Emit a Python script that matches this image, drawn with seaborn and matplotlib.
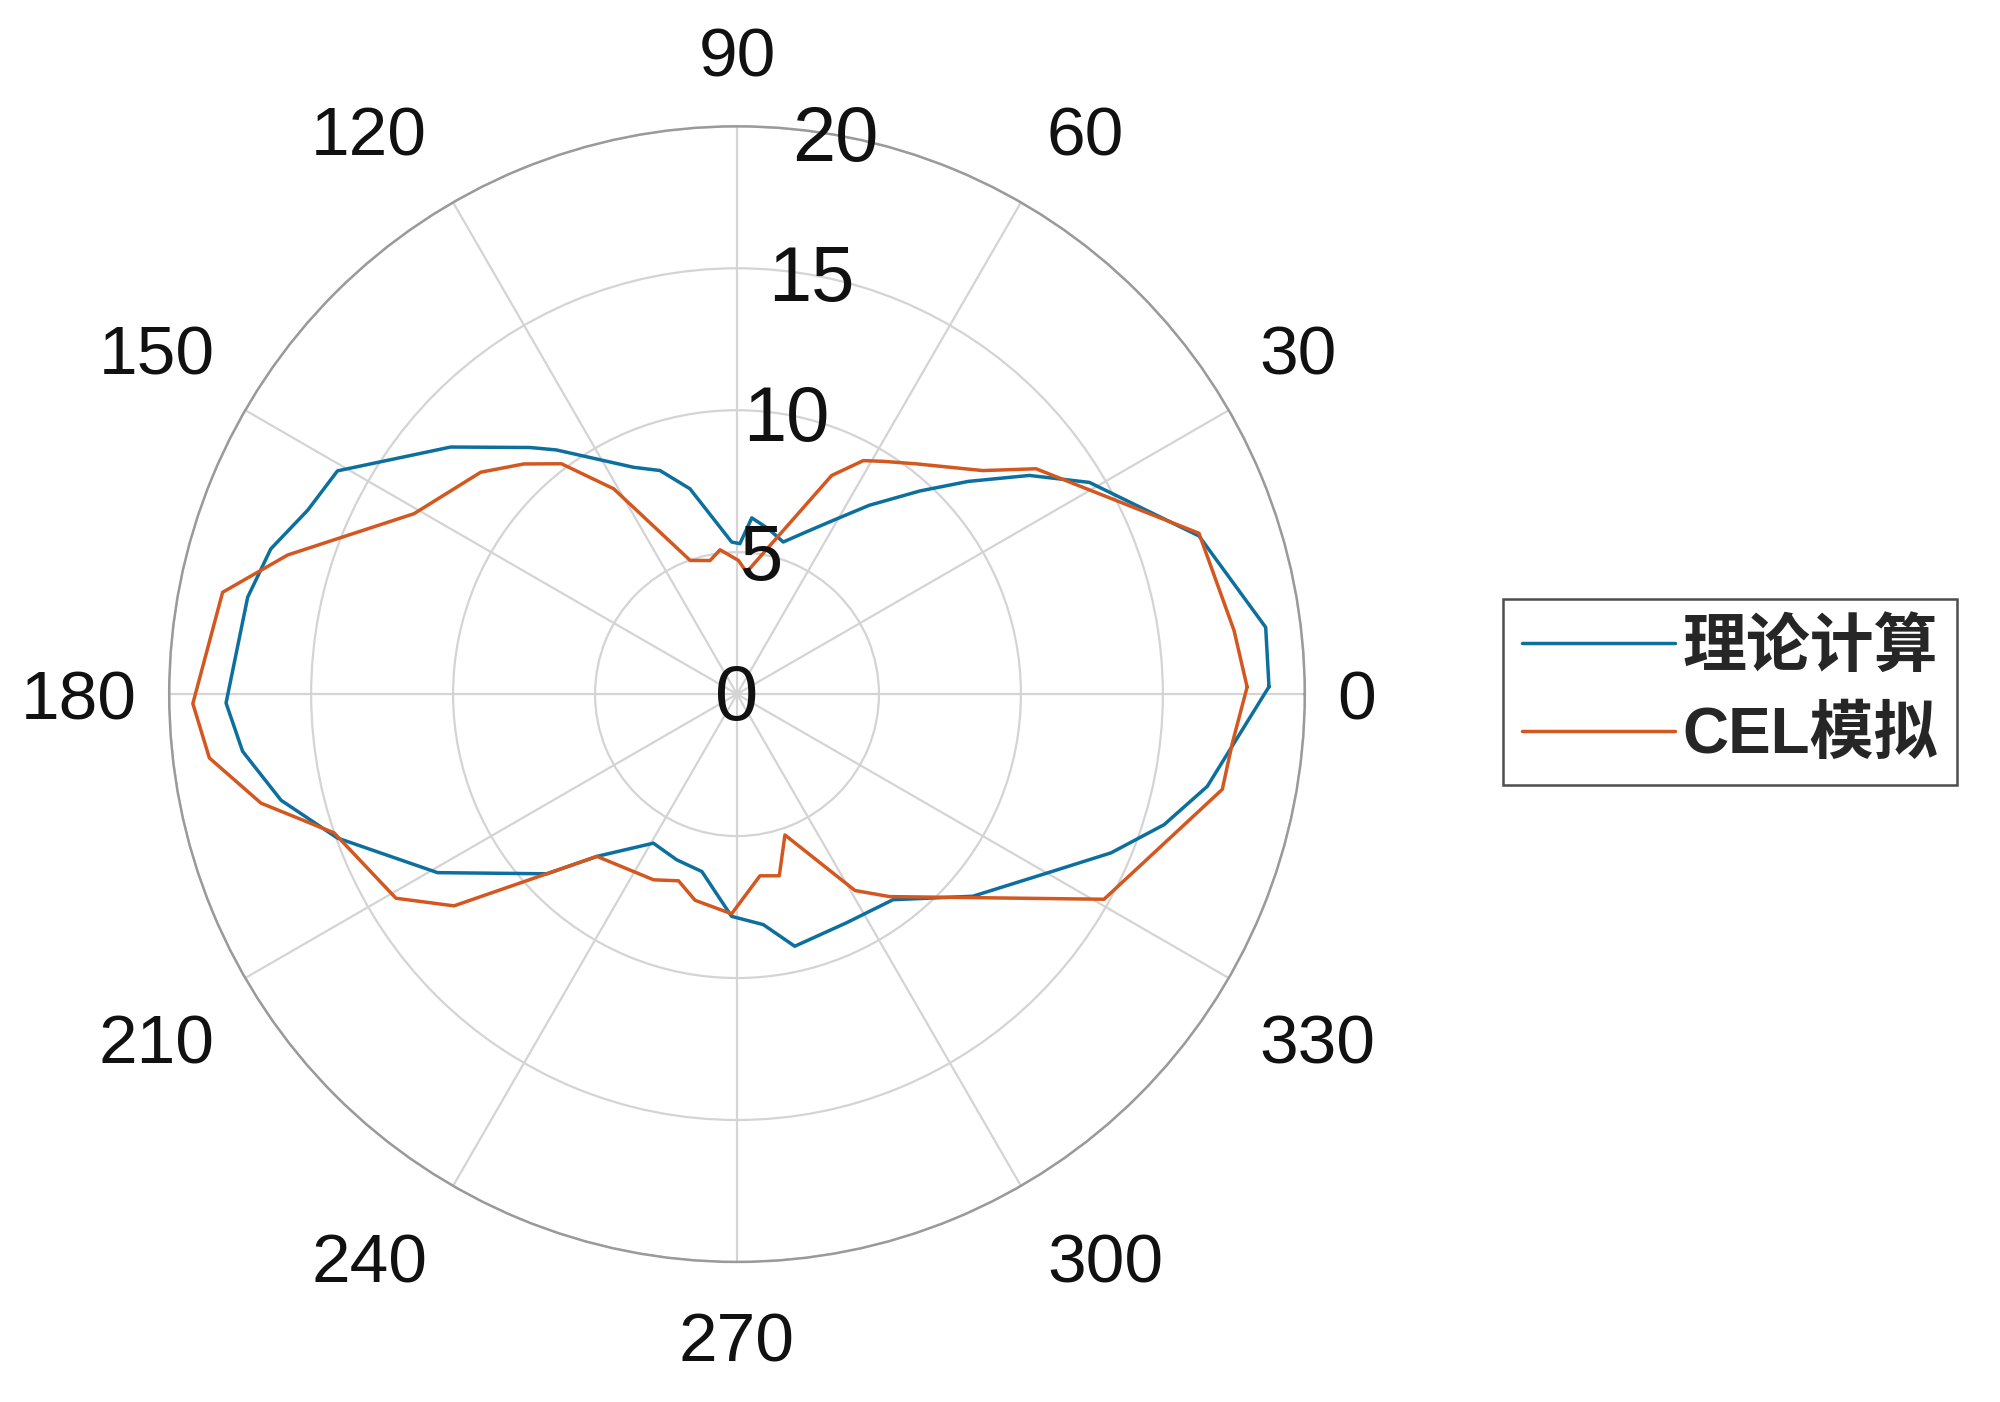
import numpy as np
import pandas as pd
import seaborn as sns
import matplotlib.pyplot as plt

# Vertices (angle in degrees, radius)
theory_deg = [0.8, 7.2, 18.9, 31.0, 36.8, 42.6, 48.0, 55.0, 61.0, 67.0, 73.1, 79.3, 85.2,
              88.9, 92.0, 102.9, 109.0, 114.5, 126.5, 130.0, 139.2, 150.8, 156.8, 162.7,
              168.8, 181.0, 186.6, 193.1, 199.8, 210.8, 223.4, 229.2, 240.7, 250.0, 258.8,
              268.6, 276.5, 282.9, 295.6, 307.2, 319.4, 330.7, 337.0, 343.0, 348.9]
theory_r = [18.74, 18.77, 17.2, 14.48, 12.86, 11.07, 9.63, 8.12, 7.0, 6.2, 5.6, 5.93, 6.23,
            5.3, 5.36, 7.42, 8.33, 8.78, 10.7, 11.34, 13.32, 16.12, 16.45, 17.2,
            17.57, 18.0, 17.53, 16.49, 14.96, 12.28, 9.21, 7.55, 6.02, 6.21, 6.37,
            7.83, 8.17, 9.11, 8.93, 9.09, 10.94, 12.75, 14.31, 15.73, 16.88]

cel_deg = [0.8, 7.3, 19.2, 37.0, 42.3, 52.1, 57.9, 61.6, 66.6, 85.5, 89.4, 96.7, 101.4,
           109.3, 121.0, 127.3, 132.8, 139.1, 150.8, 162.8, 168.8, 181.0, 186.9, 192.9,
           199.0, 210.9, 216.8, 229.2, 245.8, 252.6, 258.5, 268.6, 277.2, 283.1, 288.8,
           301.0, 307.0, 330.8, 348.9, 354.3]
cel_r = [17.97, 17.65, 17.23, 13.19, 11.7, 10.28, 9.68, 9.35, 8.39, 4.31, 4.71, 5.12, 4.8,
         4.99, 8.44, 10.2, 11.05, 11.94, 13.03, 16.57, 18.47, 19.17, 18.72, 17.2,
         15.01, 14.0, 12.45, 7.55, 7.17, 6.89, 7.41, 7.74, 6.45, 6.57, 5.24,
         8.07, 8.93, 14.81, 17.42, 17.53]

labels = ['理论计算', 'CEL模拟']
colors = ['#0d6f9e', '#d4571f']
theta_ticks = list(range(0, 360, 30))
r_ticks = [0, 5, 10, 15, 20]
r_max = 20
r_label_angle = 80


def closed(deg, r, name):
    deg = list(deg) + [deg[0] + 360]
    r = list(r) + [r[0]]
    return pd.DataFrame({'theta': np.deg2rad(deg), 'r': r, 'series': name})


df = pd.concat([closed(theory_deg, theory_r, labels[0]),
                closed(cel_deg, cel_r, labels[1])], ignore_index=True)

sns.set_theme(style='white')
plt.rcParams['font.family'] = ['Liberation Sans', 'Noto Sans CJK SC', 'DejaVu Sans']

fig = plt.figure(figsize=(20, 14.02), dpi=100)
ax = fig.add_axes([0.0845, 0.0999, 0.568, 0.810], projection='polar')

sns.lineplot(data=df, x='theta', y='r', hue='series', hue_order=labels,
             palette=colors, sort=False, estimator=None, lw=2.5, ax=ax)

ax.set_ylim(0, r_max)
ax.set_yticks(r_ticks)
ax.set_yticklabels([])
ax.set_xticks(np.deg2rad(theta_ticks))
ax.set_xticklabels([])
ax.grid(True, color='#d4d4d4', lw=1.6)
ax.spines['polar'].set_color('#9a9a9a')
ax.spines['polar'].set_linewidth(1.8)
ax.set_xlabel('')
ax.set_ylabel('')

# MATLAB-style angle labels: aligned by their edge, just outside the rim
for t in theta_ticks:
    c, s = np.cos(np.deg2rad(t)), np.sin(np.deg2rad(t))
    c = 0 if abs(c) < 1e-9 else c
    s = 0 if abs(s) < 1e-9 else s
    dx = 23 * np.sign(c) * abs(c) ** 0.3
    dy = 36 * np.sign(s) * abs(s) ** 0.5
    ha = 'left' if c > 0 else ('right' if c < 0 else 'center')
    va = 'baseline' if s > 0 else ('top' if s < 0 else 'center_baseline')
    ax.annotate(str(t), xy=(np.deg2rad(t), r_max), xytext=(dx, dy),
                textcoords='offset points', ha=ha, va=va, fontsize=50,
                color='#111111', annotation_clip=False)

# radius labels centred on the 80 degree spoke
for r in r_ticks:
    ax.annotate(str(r), xy=(np.deg2rad(r_label_angle), r), xytext=(0, -4),
                textcoords='offset points', ha='center', va='center',
                fontsize=56, color='#111111')

handles, _ = ax.get_legend_handles_labels()
ax.legend(handles, labels, loc='center left', bbox_to_anchor=(0.7513, 0.5064),
          bbox_transform=fig.transFigure, frameon=True, fancybox=False,
          borderaxespad=0, edgecolor='#222222', handlelength=2.4,
          handletextpad=0.12, borderpad=0.3, labelspacing=0.42,
          prop={'weight': 'bold', 'size': 46})
ax.get_legend().get_frame().set_linewidth(1.8)

plt.savefig('out.png', dpi=100, facecolor='white')
